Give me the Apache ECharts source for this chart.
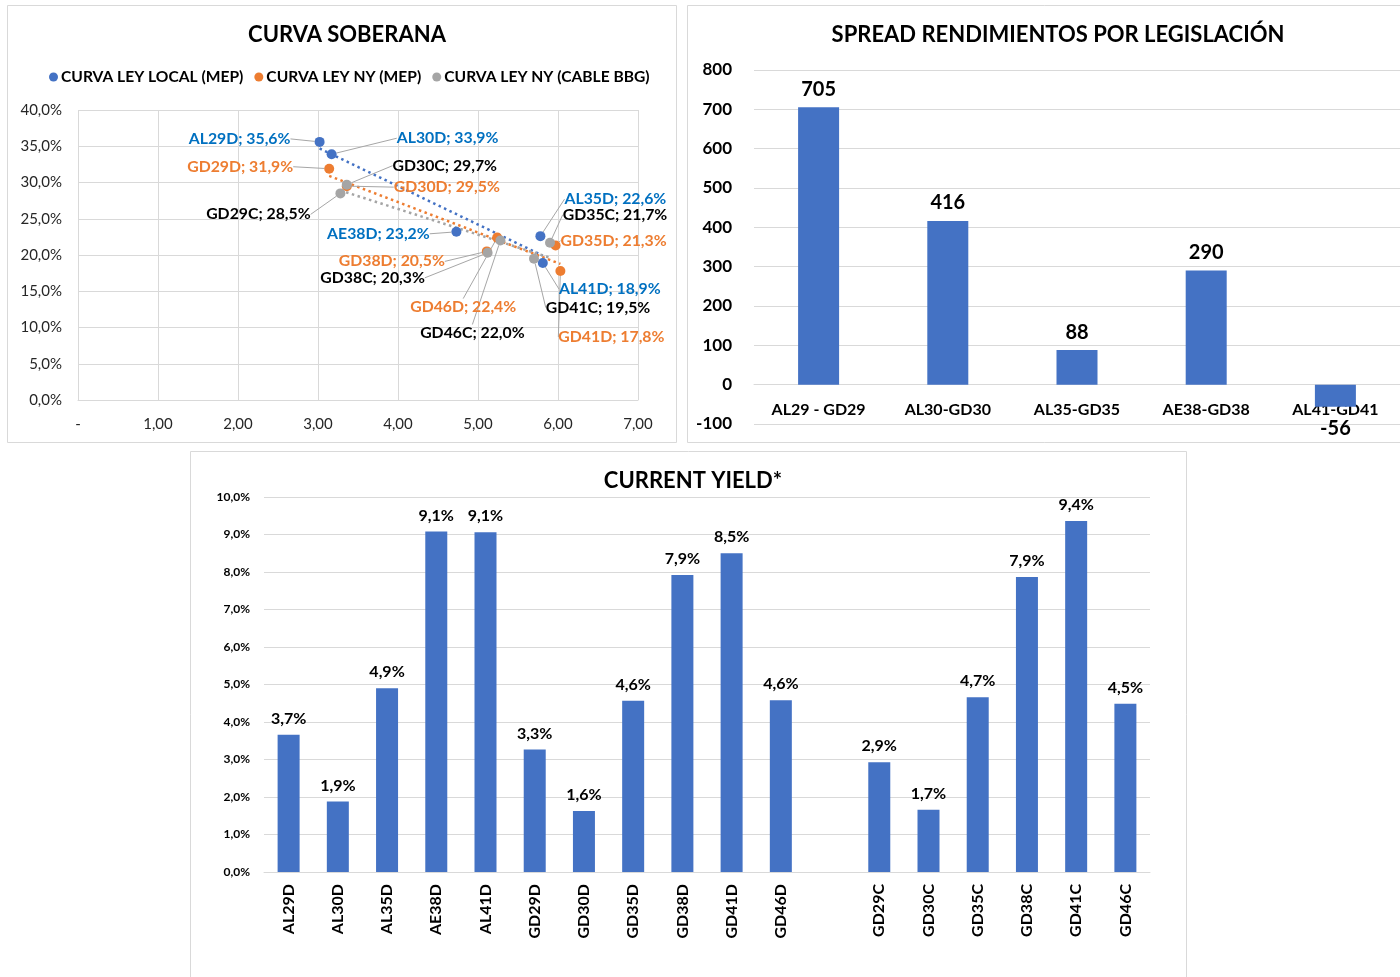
<!DOCTYPE html>
<html><head><meta charset="utf-8">
<script src="https://cdn.jsdelivr.net/npm/echarts@6/dist/echarts.min.js"></script>
<style>html,body{margin:0;padding:0;background:#fff}#c{width:1400px;height:977px}</style>
</head><body><div id="c"></div>
<script>
// ---------- DATA ----------
// Panel 1: CURVA SOBERANA (duration, yield %)
const localNames = ['AL29D', 'AL30D', 'AE38D', 'AL35D', 'AL41D'];
const localDur   = [3.02, 3.17, 4.73, 5.78, 5.81];
const localYield = [35.6, 33.9, 23.2, 22.6, 18.9];

const nyMepNames = ['GD29D', 'GD30D', 'GD38D', 'GD46D', 'GD35D', 'GD41D'];
const nyMepDur   = [3.14, 3.36, 5.11, 5.24, 5.97, 6.03];
const nyMepYield = [31.9, 29.5, 20.5, 22.4, 21.3, 17.8];

const cableNames = ['GD29C', 'GD30C', 'GD38C', 'GD46C', 'GD41C', 'GD35C'];
const cableDur   = [3.28, 3.36, 5.12, 5.28, 5.70, 5.90];
const cableYield = [28.5, 29.7, 20.3, 22.0, 19.5, 21.7];

const seriesNames1 = ['CURVA LEY LOCAL (MEP)', 'CURVA LEY NY (MEP)', 'CURVA LEY NY (CABLE BBG)'];

// Panel 2: SPREAD RENDIMIENTOS POR LEGISLACIÓN
const spreadCats = ['AL29 - GD29', 'AL30-GD30', 'AL35-GD35', 'AE38-GD38', 'AL41-GD41'];
const spreadVals = [705, 416, 88, 290, -56];

// Panel 3: CURRENT YIELD*
const cyCats = ['AL29D', 'AL30D', 'AL35D', 'AE38D', 'AL41D', 'GD29D', 'GD30D', 'GD35D', 'GD38D', 'GD41D', 'GD46D', '',
                'GD29C', 'GD30C', 'GD35C', 'GD38C', 'GD41C', 'GD46C'];
const cyVals = [3.66, 1.88, 4.90, 9.08, 9.06, 3.27, 1.63, 4.57, 7.92, 8.50, 4.58, null,
                2.93, 1.66, 4.66, 7.87, 9.36, 4.49];

// ---------- STYLE / LAYOUT ----------
const FONT = 'Lato, "Open Sans", sans-serif';
const BLUE = '#4472C4', ORANGE = '#ED7D31', GRAY = '#A5A5A5';
const LBL_BLUE = '#0070C0', LBL_ORANGE = '#ED7D31', LBL_BLACK = '#000000';
const GRID = '#D9D9D9';
// label offsets (px) from each point for panel 1
const labelOffsets = {
  AL29D: [-80, -3], AL30D: [116, -16], AE38D: [-78, 2], AL35D: [75, -37], AL41D: [67, 26],
  GD29D: [-89, -2], GD30D: [100, 1], GD38D: [-95, 10], GD46D: [-34, 69], GD35D: [58, -5], GD41D: [51, 66],
  GD29C: [-82, 21], GD30C: [98, -19], GD38C: [-115, 25], GD46C: [-28, 92], GD41C: [64, 49], GD35C: [65, -28]
};

const pct1 = v => v.toFixed(1).replace('.', ',') + '%';

function pts(names, xs, ys) { return names.map((n, i) => [xs[i], ys[i], n]); }
function trend(xs, ys) {
  const n = xs.length;
  const mx = xs.reduce((a, b) => a + b, 0) / n, my = ys.reduce((a, b) => a + b, 0) / n;
  let sxy = 0, sxx = 0;
  for (let i = 0; i < n; i++) { sxy += (xs[i] - mx) * (ys[i] - my); sxx += (xs[i] - mx) ** 2; }
  const b = sxy / sxx, a = my - b * mx;
  const x0 = Math.min(...xs), x1 = Math.max(...xs);
  return [[x0, a + b * x0], [x1, a + b * x1]];
}

function scatterSeries(name, color, lblColor, names, xs, ys) {
  return {
    type: 'scatter', name, xAxisIndex: 0, yAxisIndex: 0, z: 3,
    data: pts(names, xs, ys),
    symbolSize: 10,
    itemStyle: { color, opacity: 1 },
    label: {
      show: true, position: 'inside', color: lblColor, fontFamily: FONT, fontWeight: 'bold', fontSize: 15.8,
      formatter: p => p.data[2] + '; ' + pct1(p.data[1])
    },
    labelLine: { show: true, lineStyle: { color: '#A6A6A6', width: 1 } },
    labelLayout: p => {
      const nm = names[p.dataIndex];
      const o = labelOffsets[nm] || [0, 0];
      return { dx: o[0], dy: o[1] };
    }
  };
}
function trendSeries(color, xs, ys) {
  return {
    type: 'line', xAxisIndex: 0, yAxisIndex: 0, data: trend(xs, ys), symbol: 'none', silent: true, z: 2,
    lineStyle: { color, width: 2.5, type: [2.5, 3.5] }
  };
}

// spread chart: y range and grid height used to place the category axis on zero
const spreadMin = -100, spreadMax = 800, spreadGridH = 354;
const zeroOffset = spreadGridH * (0 - spreadMin) / (spreadMax - spreadMin);

const chart = echarts.init(document.getElementById('c'), null, { renderer: 'canvas' });
const option = {
  animation: false,
  backgroundColor: '#fff',
  textStyle: { fontFamily: FONT },
  graphic: [
    { type: 'rect', shape: { x: 7.5, y: 5.5, width: 669, height: 437 }, style: { fill: 'none', stroke: GRID, lineWidth: 1 }, silent: true },
    { type: 'rect', shape: { x: 687.5, y: 5.5, width: 730, height: 437 }, style: { fill: 'none', stroke: GRID, lineWidth: 1 }, silent: true },
    { type: 'rect', shape: { x: 190.5, y: 451.5, width: 996, height: 540 }, style: { fill: 'none', stroke: GRID, lineWidth: 1 }, silent: true }
  ],
  title: [
    { text: 'CURVA SOBERANA', left: 342, top: 19, textAlign: 'center',
      textStyle: { fontFamily: FONT, fontWeight: 'bold', fontSize: 22, color: '#000' } },
    { text: 'SPREAD RENDIMIENTOS POR LEGISLACIÓN', left: 1053, top: 19, textAlign: 'center',
      textStyle: { fontFamily: FONT, fontWeight: 'bold', fontSize: 22, color: '#000' } },
    { text: 'CURRENT YIELD*', left: 688, top: 465, textAlign: 'center',
      textStyle: { fontFamily: FONT, fontWeight: 'bold', fontSize: 22, color: '#000' } }
  ],
  legend: {
    data: seriesNames1, left: 44, top: 64, itemWidth: 9, itemHeight: 9, itemGap: 11, icon: 'circle',
    textStyle: { fontFamily: FONT, fontWeight: 'bold', fontSize: 15.6, color: '#000', padding: [0, 0, 0, -2] }
  },
  grid: [
    { left: 78, top: 110, width: 560, height: 290 },
    { left: 754, top: 70, width: 648, height: spreadGridH },
    { left: 264, top: 497, width: 886, height: 375 }
  ],
  xAxis: [
    { type: 'value', gridIndex: 0, min: 0, max: 7, interval: 1,
      axisLine: { show: true, lineStyle: { color: GRID } }, axisTick: { show: false },
      splitLine: { show: true, lineStyle: { color: GRID } },
      axisLabel: { margin: 17, fontFamily: FONT, fontSize: 15, color: '#262626',
        formatter: v => v === 0 ? '-' : v.toFixed(2).replace('.', ',') } },
    { type: 'category', gridIndex: 1, data: spreadCats, position: 'bottom', offset: -zeroOffset,
      axisLine: { show: true, onZero: false, lineStyle: { color: GRID } }, axisTick: { show: false },
      axisLabel: { margin: 17, fontFamily: FONT, fontWeight: 'bold', fontSize: 16, color: '#000', interval: 0 } },
    { type: 'category', gridIndex: 2, data: cyCats,
      axisLine: { show: true, lineStyle: { color: GRID } }, axisTick: { show: false },
      axisLabel: { margin: 12, rotate: 90, fontFamily: FONT, fontWeight: 'bold', fontSize: 16, color: '#000', interval: 0 } }
  ],
  yAxis: [
    { type: 'value', gridIndex: 0, min: 0, max: 40, interval: 5,
      axisLine: { show: false }, axisTick: { show: false },
      splitLine: { show: true, lineStyle: { color: GRID } },
      axisLabel: { margin: 16, fontFamily: FONT, fontSize: 15, color: '#262626', formatter: v => pct1(v) } },
    { type: 'value', gridIndex: 1, min: spreadMin, max: spreadMax, interval: 100,
      axisLine: { show: false }, axisTick: { show: false },
      splitLine: { show: true, lineStyle: { color: GRID } },
      axisLabel: { margin: 22, fontFamily: FONT, fontWeight: 'bold', fontSize: 17, color: '#000' } },
    { type: 'value', gridIndex: 2, min: 0, max: 10, interval: 1,
      axisLine: { show: false }, axisTick: { show: false },
      splitLine: { show: true, lineStyle: { color: GRID } },
      axisLabel: { margin: 14, fontFamily: FONT, fontWeight: 'bold', fontSize: 12, color: '#000', formatter: v => pct1(v) } }
  ],
  series: [
    trendSeries(BLUE, localDur, localYield),
    trendSeries(ORANGE, nyMepDur, nyMepYield),
    trendSeries(GRAY, cableDur, cableYield),
    scatterSeries(seriesNames1[0], BLUE, LBL_BLUE, localNames, localDur, localYield),
    scatterSeries(seriesNames1[1], ORANGE, LBL_ORANGE, nyMepNames, nyMepDur, nyMepYield),
    scatterSeries(seriesNames1[2], GRAY, LBL_BLACK, cableNames, cableDur, cableYield),
    { type: 'bar', xAxisIndex: 1, yAxisIndex: 1, barWidth: 41, z: 1,
      itemStyle: { color: BLUE },
      data: spreadVals.map(v => ({ value: v, label: { position: v < 0 ? 'bottom' : 'top', distance: v < 0 ? 12 : 8 } })),
      label: { show: true, fontFamily: FONT, fontWeight: 'bold', fontSize: 20, color: '#000' } },
    { type: 'bar', xAxisIndex: 2, yAxisIndex: 2, barWidth: 22,
      itemStyle: { color: BLUE },
      data: cyVals,
      label: { show: true, position: 'top', distance: 8, fontFamily: FONT, fontWeight: 'bold', fontSize: 16, color: '#000',
        formatter: p => pct1(p.value) } }
  ]
};
chart.setOption(option);
</script></body></html>
